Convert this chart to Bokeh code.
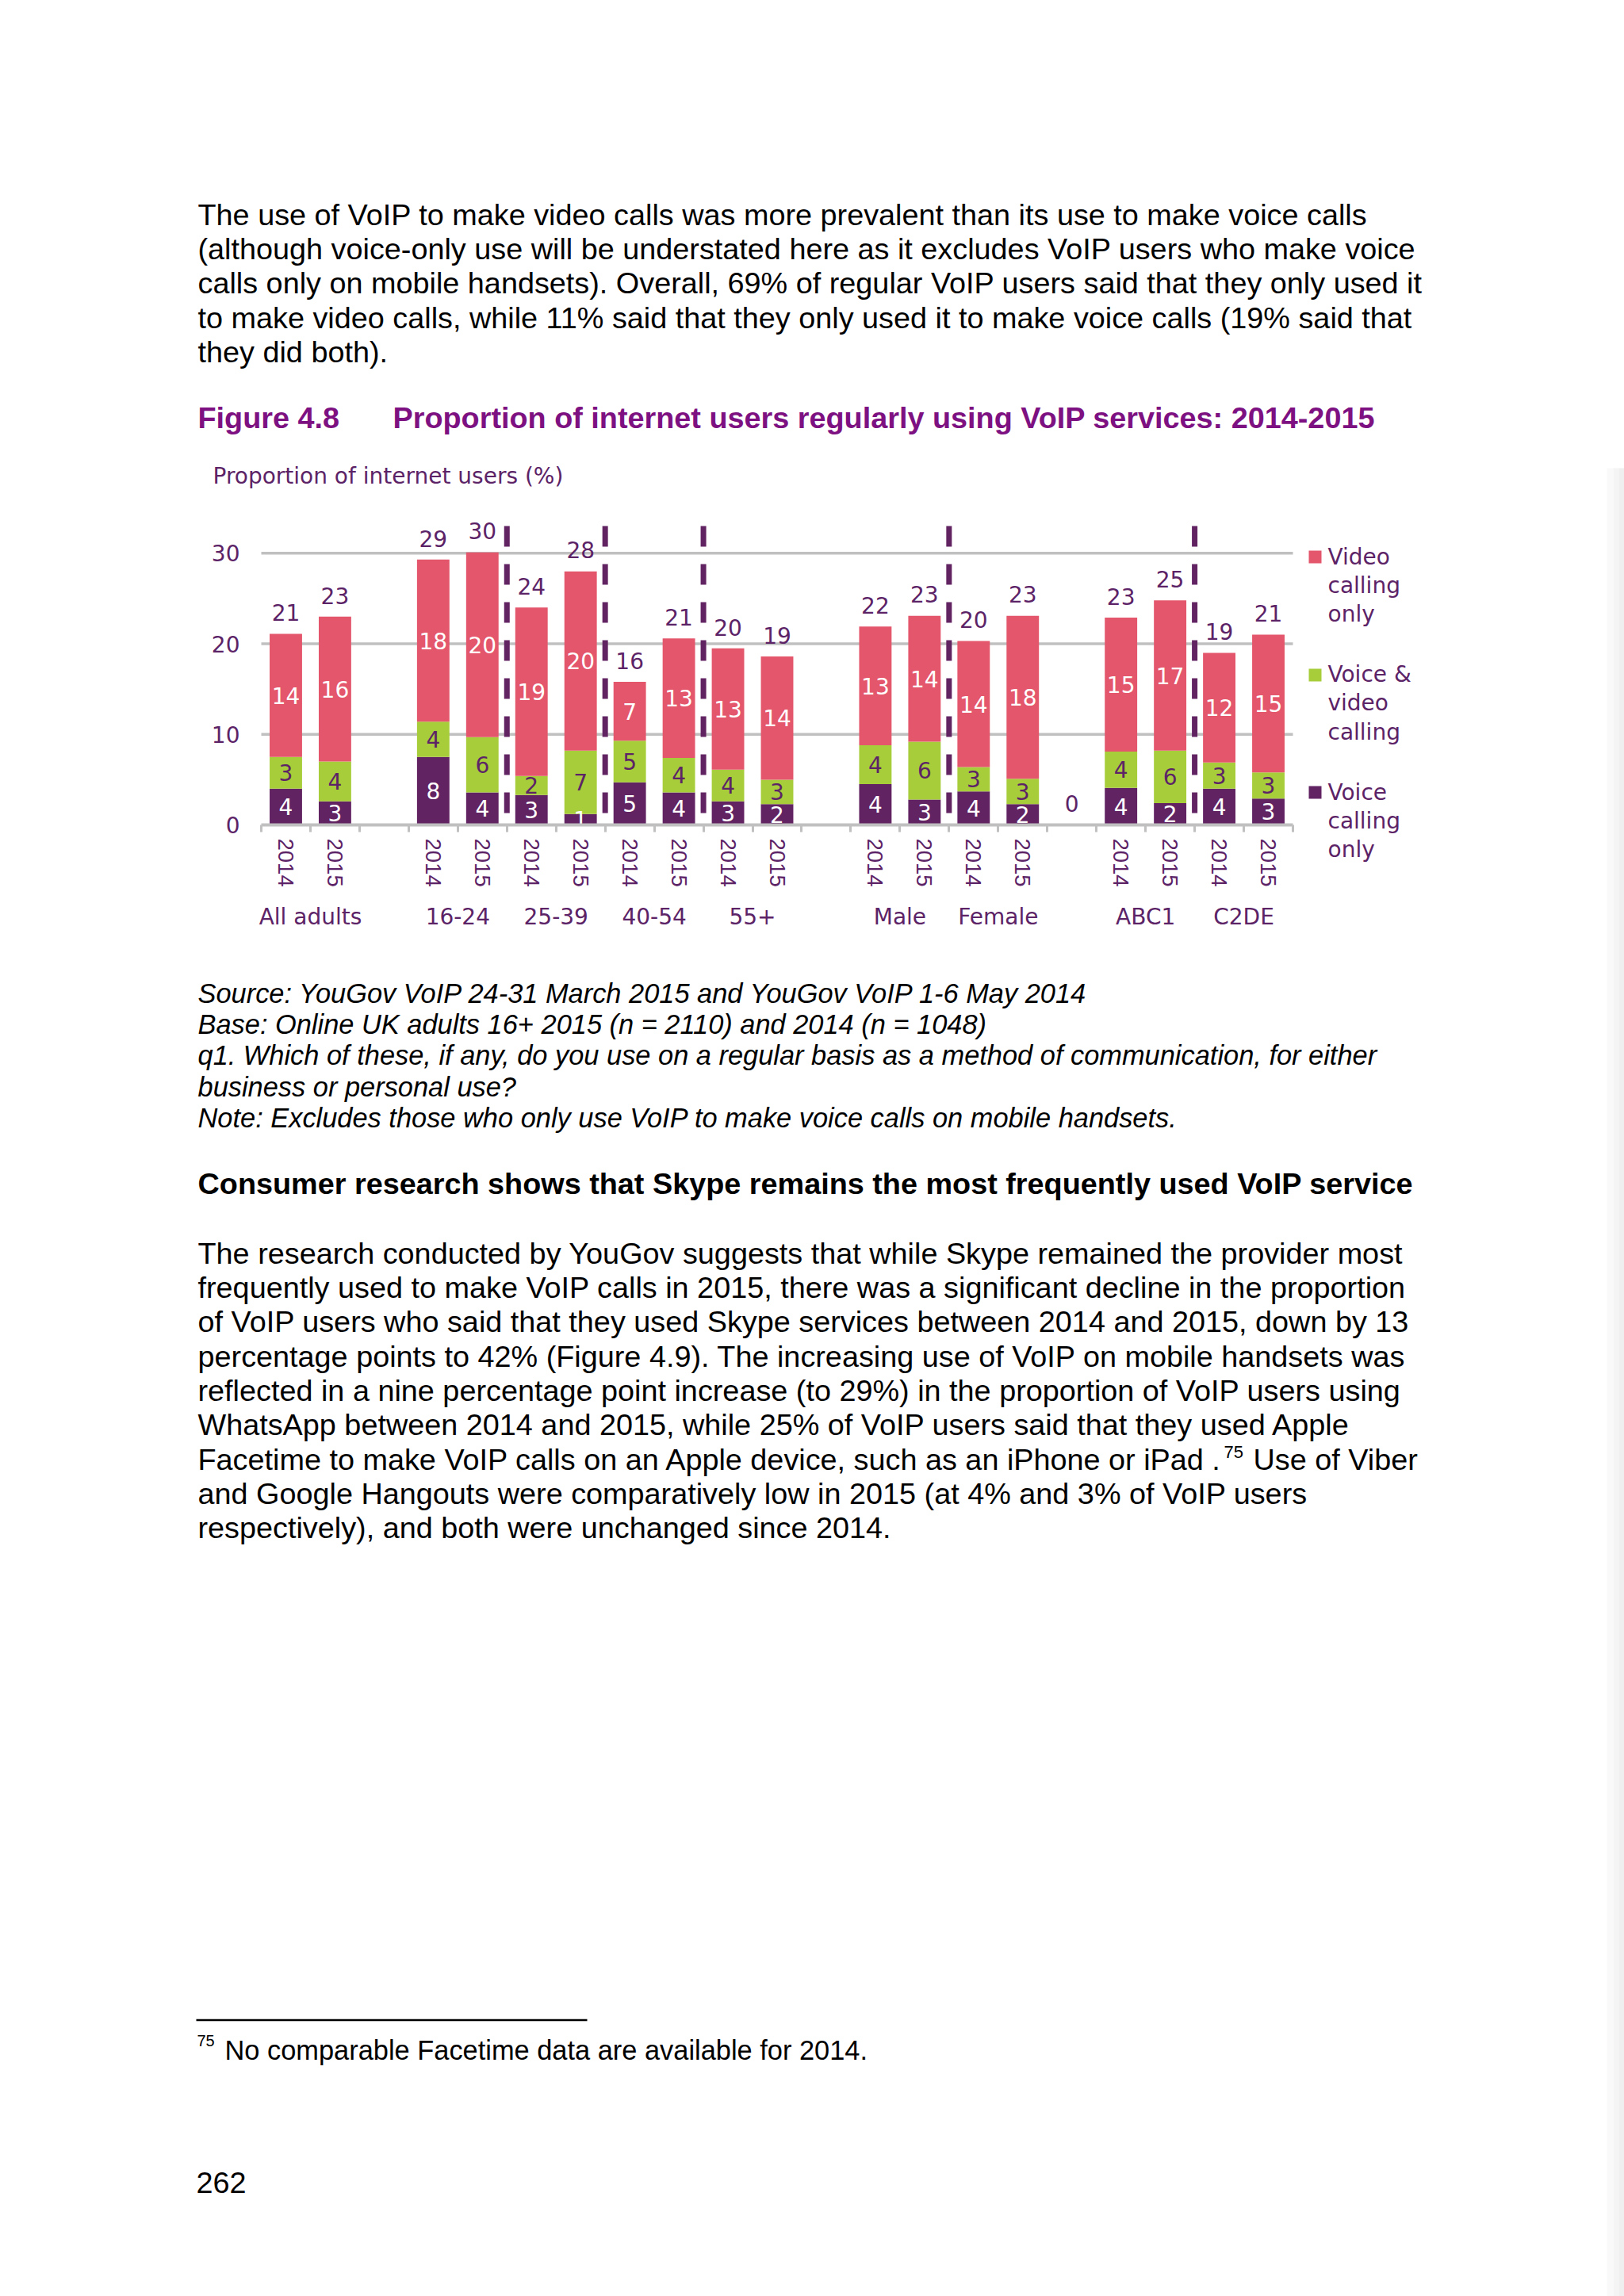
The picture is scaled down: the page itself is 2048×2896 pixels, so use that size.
import numpy as np
from bokeh.plotting import figure
from bokeh.models import ColumnDataSource, Range1d, FixedTicker, LinearAxis, Label
from bokeh.core.properties import value
from bokeh.embed import file_html
from bokeh.resources import INLINE

# ---------------- data ----------------
groups = ["All adults", "16-24", "25-39", "40-54", "55+", "Male", "Female", "ABC1", "C2DE"]
years = ["2014", "2015"]
blank_before = ["16-24", "Male", "ABC1"]     # empty category slot before these groups
blank_labels = ["", "", "0"]                 # the chart shows a "0" on the last empty slot

voice_only = [4.0, 2.6, 7.5, 3.6, 3.3, 1.2, 4.7, 3.6, 2.6, 2.3, 4.5, 2.8, 3.7, 2.3, 4.1, 2.4, 4.0, 2.9]
voice_video = [3.5, 4.4, 3.9, 6.1, 2.1, 7.0, 4.6, 3.8, 3.5, 2.7, 4.3, 6.4, 2.7, 2.8, 4.0, 5.8, 2.9, 2.9]
video_only = [13.6, 16.0, 17.9, 20.4, 18.6, 19.8, 6.5, 13.2, 13.4, 13.6, 13.1, 13.9, 13.9, 18.0, 14.8, 16.6, 12.1, 15.2]

voice_only_lbl = [4, 3, 8, 4, 3, 1, 5, 4, 3, 2, 4, 3, 4, 2, 4, 2, 4, 3]
voice_video_lbl = [3, 4, 4, 6, 2, 7, 5, 4, 4, 3, 4, 6, 3, 3, 4, 6, 3, 3]
video_only_lbl = [14, 16, 18, 20, 19, 20, 7, 13, 13, 14, 13, 14, 14, 18, 15, 17, 12, 15]
total_lbl = [21, 23, 29, 30, 24, 28, 16, 21, 20, 19, 22, 23, 20, 23, 23, 25, 19, 21]

y_ticks = [0, 10, 20, 30]
series_names = [["Video", "calling", "only"], ["Voice &", "video", "calling"], ["Voice", "calling", "only"]]

para1 = [
    "The use of VoIP to make video calls was more prevalent than its use to make voice calls",
    "(although voice-only use will be understated here as it excludes VoIP users who make voice",
    "calls only on mobile handsets). Overall, 69% of regular VoIP users said that they only used it",
    "to make video calls, while 11% said that they only used it to make voice calls (19% said that",
    "they did both).",
]
fig_num = "Figure 4.8"
fig_title = "Proportion of internet users regularly using VoIP services: 2014-2015"
y_title = "Proportion of internet users (%)"
source_lines = [
    "Source: YouGov VoIP 24-31 March 2015 and YouGov VoIP 1-6 May 2014",
    "Base: Online UK adults 16+ 2015 (n = 2110) and 2014 (n = 1048)",
    "q1. Which of these, if any, do you use on a regular basis as a method of communication, for either",
    "business or personal use?",
    "Note: Excludes those who only use VoIP to make voice calls on mobile handsets.",
]
heading = "Consumer research shows that Skype remains the most frequently used VoIP service"
para2 = [
    "The research conducted by YouGov suggests that while Skype remained the provider most",
    "frequently used to make VoIP calls in 2015, there was a significant decline in the proportion",
    "of VoIP users who said that they used Skype services between 2014 and 2015, down by 13",
    "percentage points to 42% (Figure 4.9). The increasing use of VoIP on mobile handsets was",
    "reflected in a nine percentage point increase (to 29%) in the proportion of VoIP users using",
    "WhatsApp between 2014 and 2015, while 25% of VoIP users said that they used Apple",
    "Facetime to make VoIP calls on an Apple device, such as an iPhone or iPad .",
    "and Google Hangouts were comparatively low in 2015 (at 4% and 3% of VoIP users",
    "respectively), and both were unchanged since 2014.",
]
para2_tail = "Use of Viber"
footnote_mark = "75"
footnote = "No comparable Facetime data are available for 2014."
page_number = "262"

# ---------------- styles / layout ----------------
PINK = "#E4566B"
GREEN = "#A7CD3A"
DPURPLE = "#622363"
TXT = "#5C2367"
TITLE = "#7E1181"
GRID = "#C0C0C0"
CF = "DejaVu Sans"          # chart text (wide, like the stretched chart font)
RF = "Liberation Sans"      # page text
CSZ = 28
CS = f"{CSZ}px"
MID = 0.3465                # alphabetic baseline -> middle of text box, in em

W, H = 2048, 2896
FL, FR, FB = 329, 1630, 1040        # plot area in page coordinates (x left/right, y of zero)
PPU = 11.423                        # pixels per percentage point

# slot positions computed from the group structure
bar_x, blank_x, group_x = [], [], []
pos = 0
for g in groups:
    if g in blank_before:
        blank_x.append(pos)
        pos += 1
    xs = []
    for yr in years:
        bar_x.append(pos)
        xs.append(pos)
        pos += 1
    group_x.append(float(np.mean(xs)))
n_slots = pos
SLOT = (FR - FL) / n_slots

# page figure: frame == whole canvas, default ranges are page pixels (y downward)
p = figure(width=W, height=H, output_backend="svg", toolbar_location=None,
           x_range=Range1d(0, W), y_range=Range1d(H, 0),
           x_axis_location=None, y_axis_location=None,
           min_border=0, min_border_left=0, min_border_right=0, min_border_top=0, min_border_bottom=0)
p.outline_line_color = None
p.background_fill_color = "white"
p.border_fill_color = "white"
for g in p.grid:
    g.visible = False

# faint scan shading at the right page edge
p.quad(left=[2026, 2034, 2041], right=[2034, 2041, 2048], top=[590] * 3, bottom=[H] * 3,
       fill_color=["#F9F9F9", "#F4F4F4", "#EFEFEF"], line_color=None)

# chart scales mapped onto the page
p.extra_x_ranges = {"cx": Range1d((0 - FL) / SLOT - 0.5, (W - FL) / SLOT - 0.5)}
p.extra_y_ranges = {"cy": Range1d((FB - H) / PPU, FB / PPU)}
C = dict(x_range_name="cx", y_range_name="cy")

# gridlines
gy = [t for t in y_ticks if t > 0]
p.segment(x0=[-0.5] * len(gy), x1=[n_slots - 0.5] * len(gy), y0=gy, y1=gy,
          line_color=GRID, line_width=3.5, **C)

# y axis
ya = LinearAxis(fixed_location=-0.5, bounds=(0, 30), ticker=FixedTicker(ticks=y_ticks, minor_ticks=[]), **C)
ya.axis_line_color = None
ya.major_tick_line_color = None
ya.minor_tick_line_color = None
ya.major_tick_out = 0
ya.major_tick_in = 0
ya.major_label_standoff = 27
ya.major_label_text_font = CF
ya.major_label_text_font_size = CS
ya.major_label_text_color = TXT
p.add_layout(ya, "left")

# x axis with years
all_slots = list(range(n_slots))
boundaries = [s - 0.5 for s in range(n_slots + 1)]
xa = LinearAxis(fixed_location=0, bounds=(-0.5, n_slots - 0.5),
                ticker=FixedTicker(ticks=all_slots, minor_ticks=boundaries), **C)
overrides = {s: "" for s in all_slots}
for i, s in enumerate(bar_x):
    overrides[s] = years[i % len(years)]
xa.major_label_overrides = overrides
xa.axis_line_color = GRID
xa.axis_line_width = 4
xa.major_tick_out = 0
xa.major_tick_in = 0
xa.major_tick_line_color = None
xa.minor_tick_out = 9
xa.minor_tick_in = 0
xa.minor_tick_line_color = GRID
xa.minor_tick_line_width = 3
xa.major_label_orientation = "vertical"
xa.major_label_standoff = 8
xa.major_label_text_font = RF
xa.major_label_text_font_size = "27.5px"
xa.major_label_text_color = TXT

# group label axis
ga = LinearAxis(fixed_location=0, bounds=(-0.5, n_slots - 0.5),
                ticker=FixedTicker(ticks=group_x, minor_ticks=[]),
                major_label_overrides={gx: g for gx, g in zip(group_x, groups)}, **C)
ga.axis_line_color = None
ga.major_tick_line_color = None
ga.minor_tick_line_color = None
ga.major_tick_out = 0
ga.major_tick_in = 0
ga.major_label_standoff = 99
ga.major_label_text_font = CF
ga.major_label_text_font_size = CS
ga.major_label_text_color = TXT

# bars
vo = np.array(voice_only)
vv = np.array(voice_video)
vd = np.array(video_only)
src = ColumnDataSource(dict(x=bar_x, voice=vo, both=vv, video=vd))
p.vbar_stack(["voice", "both", "video"], x="x", width=0.66, color=[DPURPLE, GREEN, PINK],
             line_color=None, source=src, **C)

p.add_layout(xa, "below")
p.add_layout(ga, "below")

# segment and total labels (centred in each segment)
def seg_labels(centers, texts, color):
    s = ColumnDataSource(dict(x=bar_x, y=centers, t=[str(t) for t in texts]))
    p.text(x="x", y="y", text="t", source=s, text_align="center", text_baseline="middle",
           text_font=value(CF), text_font_size=value(CS), text_color=color, **C)

seg_labels(vo / 2, voice_only_lbl, "white")
seg_labels(vo + vv / 2, voice_video_lbl, TXT)
seg_labels(vo + vv + vd / 2, video_only_lbl, "white")

tot = vo + vv + vd
above = (17 + MID * CSZ) / PPU
tx = list(bar_x) + [bx for bx, bl in zip(blank_x, blank_labels) if bl]
ty = list(tot + above) + [above for bl in blank_labels if bl]
tt = [str(t) for t in total_lbl] + [bl for bl in blank_labels if bl]
p.text(x=tx, y=ty, text=tt, text_align="center", text_baseline="middle",
       text_font=value(CF), text_font_size=value(CS), text_color=TXT, **C)

# dashed separators between adjacent groups without an empty slot between them
sep_x = []
for i in range(len(groups) - 1):
    if groups[i + 1] not in blank_before:
        sep_x.append(bar_x[2 * i + 1] + 0.5)
p.segment(x0=sep_x, y0=[33.0] * len(sep_x), x1=sep_x, y1=[0.0] * len(sep_x),
          line_color=DPURPLE, line_width=7, line_dash="26 22", **C)

# ---------------- page texts (page pixel coordinates, Y = baseline) ----------------
def page_text(txt, X, Y, size, color="black", style="normal", font=RF):
    p.add_layout(Label(x=X, y=Y - MID * size, text=txt, text_font=font, text_font_size=f"{size}px",
                       text_font_style=style, text_color=color,
                       text_baseline="middle", text_align="left"))

LEFT = 249
BODY = 37.8
for i, line in enumerate(para1):
    page_text(line, LEFT, 283.3 + 43.3 * i, BODY)

page_text(fig_num, LEFT, 540, BODY, TITLE, "bold")
page_text(fig_title, 495, 540, BODY, TITLE, "bold")
page_text(y_title, 268, 610, CSZ, TXT, font=CF)

# legend
leg_colors = [PINK, GREEN, DPURPLE]
leg_top = [694, 843, 991]
leg_base = [711.7, 860, 1008.3]
p.quad(left=[1650] * 3, right=[1666] * 3, top=leg_top, bottom=[t + 16 for t in leg_top],
       fill_color=leg_colors, line_color=None)
for b0, names in zip(leg_base, series_names):
    for j, nm in enumerate(names):
        page_text(nm, 1674, b0 + 36.2 * j, CSZ, TXT, font=CF)

for i, line in enumerate(source_lines):
    page_text(line, LEFT, 1264 + 39.4 * i, 34.4, "black", "italic")

page_text(heading, LEFT, 1506, BODY, "black", "bold")

for i, line in enumerate(para2):
    page_text(line, LEFT, 1593.3 + 43.3 * i, BODY)
page_text(footnote_mark, 1543, 1593.3 + 43.3 * 6 - 14, 22)
page_text(para2_tail, 1580, 1593.3 + 43.3 * 6, BODY)

p.quad(left=[247], right=[740], top=[2546.3], bottom=[2548.8], fill_color="black", line_color=None)
page_text(footnote_mark, 248, 2580, 20)
page_text(footnote, 283, 2597, 34.4)
page_text(page_number, 247, 2766, BODY)

open("out.html", "w").write(file_html(p, INLINE))
